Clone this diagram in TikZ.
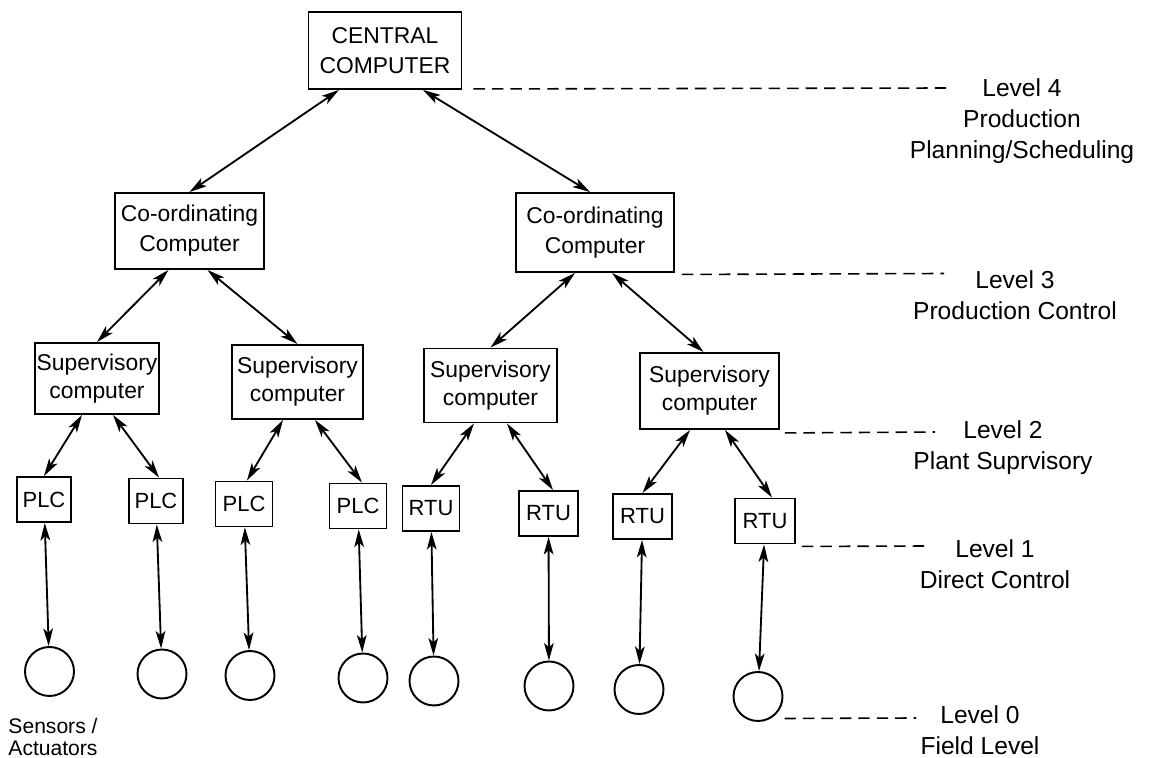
\documentclass[tikz,border=0pt]{standalone}
\usepackage{fontspec}
\setmainfont{Liberation Sans}
\usetikzlibrary{arrows.meta}

\begin{document}
\begin{tikzpicture}[
    comp/.style={rectangle, draw=black, line width=1.1pt, minimum width=3.06cm, minimum height=1.54cm, inner sep=1pt, align=center, font=\fontsize{13}{17}\selectfont},
    sup/.style={rectangle, draw=black, line width=1.1pt, minimum width=2.62cm, minimum height=1.48cm, inner sep=1pt, align=center, font=\fontsize{13}{16}\selectfont},
    unit/.style={rectangle, draw=black, line width=1.1pt, minimum width=1.14cm, minimum height=0.9cm, inner sep=1pt, font=\fontsize{12.5}{15}\selectfont},
    field/.style={circle, draw=black, line width=1.1pt, minimum size=0.98cm, inner sep=0pt},
    level/.style={align=center, inner sep=0pt, font=\fontsize{14}{17.5}\selectfont},
    levelline/.style={line width=0.9pt, dash pattern=on 6.5pt off 4pt},
    arrow/.style={<->, >={Stealth[length=10pt, width=5.5pt, inset=2.5pt]}, line width=1.05pt}
]
\useasboundingbox (0,0) rectangle (23.14,15.16);

% Level 4 and 3
\node[comp] (central) at (7.70,14.15) {CENTRAL\\COMPUTER};
\node[comp, minimum width=2.98cm, minimum height=1.52cm] (coordl) at (3.79,10.54) {Co-ordinating\\Computer};
\node[comp, minimum width=3.16cm, minimum height=1.58cm] (coordr) at (11.90,10.51) {Co-ordinating\\Computer};

% Level 2
\node[sup, minimum width=2.48cm, minimum height=1.42cm] (sup1) at (1.94,7.59) {Supervisory\\computer};
\node[sup] (sup2) at (5.95,7.52) {Supervisory\\computer};
\node[sup, minimum width=2.66cm] (sup3) at (9.81,7.45) {Supervisory\\computer};
\node[sup, minimum width=2.78cm, minimum height=1.52cm] (sup4) at (14.19,7.34) {Supervisory\\computer};

% Level 1
\node[unit, minimum width=1.08cm] (plc1) at (0.88,5.17) {PLC};
\node[unit, minimum width=1.08cm] (plc2) at (3.12,5.14) {PLC};
\node[unit] (plc3) at (4.88,5.08) {PLC};
\node[unit] (plc4) at (7.16,5.04) {PLC};
\node[unit] (rtu1) at (8.62,4.99) {RTU};
\node[unit, minimum width=1.18cm] (rtu2) at (10.97,4.89) {RTU};
\node[unit, minimum width=1.18cm] (rtu3) at (12.85,4.83) {RTU};
\node[unit, minimum width=1.2cm] (rtu4) at (15.30,4.74) {RTU};

% Level 0
\node[field] (fd1) at (0.99,1.73) {};
\node[field] (fd2) at (3.24,1.68) {};
\node[field] (fd3) at (5.00,1.65) {};
\node[field] (fd4) at (7.26,1.60) {};
\node[field] (fd5) at (8.68,1.54) {};
\node[field] (fd6) at (10.98,1.44) {};
\node[field] (fd7) at (12.78,1.37) {};
\node[field] (fd8) at (15.16,1.23) {};
\node[align=center, inner sep=0pt, font=\fontsize{12}{12.5}\selectfont] (sensors) at (1.06,0.42) {Sensors /\\Actuators};

% Arrows
\draw[arrow] ([xshift=-0.92cm]central.south) -- (coordl.north);
\draw[arrow] ([xshift=0.76cm]central.south) -- ([xshift=-0.1cm]coordr.north);
\draw[arrow] ([xshift=-0.42cm]coordl.south) -- (sup1.north);
\draw[arrow] ([xshift=0.36cm]coordl.south) -- (sup2.north);
\draw[arrow] ([xshift=-0.4cm]coordr.south) -- (sup3.north);
\draw[arrow] ([xshift=0.34cm]coordr.south) -- ([xshift=-0.12cm]sup4.north);
\draw[arrow] ([xshift=-0.3cm]sup1.south) -- (plc1.north);
\draw[arrow] ([xshift=0.32cm]sup1.south) -- ([xshift=0.06cm]plc2.north);
\draw[arrow] ([xshift=-0.29cm]sup2.south) -- ([xshift=0.06cm]plc3.north);
\draw[arrow] ([xshift=0.35cm]sup2.south) -- ([xshift=0.08cm]plc4.north);
\draw[arrow] ([xshift=-0.33cm]sup3.south) -- (rtu1.north);
\draw[arrow] ([xshift=0.33cm]sup3.south) -- ([xshift=0.09cm]rtu2.north);
\draw[arrow] ([xshift=-0.39cm]sup4.south) -- (rtu3.north);
\draw[arrow] ([xshift=0.31cm]sup4.south) -- ([xshift=0.14cm]rtu4.north);
\draw[arrow] (plc1) -- (fd1);
\draw[arrow] (plc2) -- (fd2);
\draw[arrow] (plc3) -- (fd3);
\draw[arrow] (plc4) -- (fd4);
\draw[arrow] (rtu1) -- (fd5);
\draw[arrow] (rtu2) -- (fd6);
\draw[arrow] (rtu3) -- (fd7);
\draw[arrow] (rtu4) -- (fd8);

% Level lines
\coordinate (lv4) at (19.00,13.40);
\coordinate (lv3) at (18.88,9.69);
\coordinate (lv2) at (18.70,6.52);
\coordinate (lv1) at (18.56,4.24);
\coordinate (lv0) at (18.32,0.80);
\draw[levelline] ([xshift=0.22cm,yshift=0.02cm]central.south east) -- (lv4);
\draw[levelline] ([xshift=0.14cm,yshift=-0.03cm]coordr.south east) -- (lv3);
\draw[levelline] ([xshift=0.1cm,yshift=-0.06cm]sup4.south east) -- (lv2);
\draw[levelline] ([xshift=0.12cm,yshift=-0.04cm]rtu4.south east) -- (lv1);
\draw[levelline] ([xshift=0.17cm,yshift=-0.08cm]fd8.south east) -- (lv0);

% Level labels
\node[level] (l4) at (20.44,12.74) {Level 4\\Production\\Planning/Scheduling};
\node[level] (l3) at (20.30,9.26) {Level 3\\Production Control};
\node[level] (l2) at (20.06,6.20) {Level 2\\Plant Suprvisory};
\node[level] (l1) at (19.90,3.88) {Level 1\\Direct Control};
\node[level] (l0) at (19.60,0.56) {Level 0\\Field Level};

\end{tikzpicture}
\end{document}
